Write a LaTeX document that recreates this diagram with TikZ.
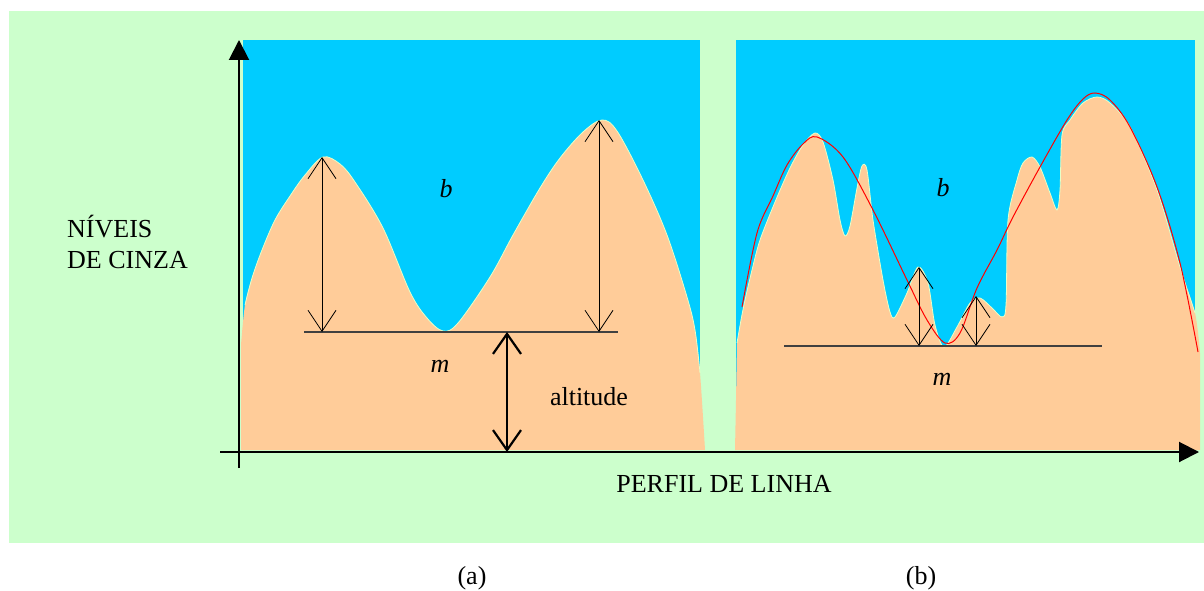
\documentclass[tikz,border=0pt]{standalone}
\usepackage{fontspec}
\setmainfont{Liberation Serif}
\usetikzlibrary{arrows.meta}
\definecolor{bggreen}{HTML}{CCFFCC}
\definecolor{skyblue}{HTML}{00CCFF}
\definecolor{peach}{HTML}{FFCC99}
\definecolor{rim}{HTML}{E6FFC8}
\definecolor{levelgray}{HTML}{404040}
\tikzset{
  lbl/.style={inner sep=0pt, anchor=base, font=\fontsize{26}{30}\selectfont},
  barbarrow/.style={line width=0.8pt, {Straight Barb[length=21pt,width=28pt]}-{Straight Barb[length=21pt,width=28pt]}},
  altarrow/.style={line width=2.2pt, {Straight Barb[length=20pt,width=28pt]}-{Straight Barb[length=20pt,width=28pt]}},
  axisline/.style={line width=2pt, -{Triangle[length=20pt,width=20pt]}},
  levelline/.style={levelgray, line width=1.4pt},
  fitcurve/.style={red, line width=1pt},
}
\begin{document}
\begin{tikzpicture}[x=1pt,y=-1pt]
\useasboundingbox (0,0) rectangle (1204,591);
% background
\fill[white] (0,0) rectangle (1204,591);
\fill[bggreen] (9,11) rectangle (1204,543);
% panel (a)
\fill[skyblue] (243,40) rectangle (700,450);
\fill[peach] (241,450) -- (241,345) -- plot[smooth, tension=0.55] coordinates {
 (241,345) (245,305) (252,278) (262,250) (275,220) (290,196) (305,175) (323,157) (340,164) (355,182)
 (383,228) (410,292) (427,318) (443,331) (458,323) (490,277) (513,235) (540,188) (560,158) (583,132)
 (602,120) (617,131) (643,180) (667,235) (687,297) (695,330) (700,373) (705,450)} -- cycle;
\draw[rim, line width=0.8pt] plot[smooth, tension=0.55] coordinates {
 (245,305) (252,278) (262,250) (275,220) (290,196) (305,175) (323,157) (340,164) (355,182)
 (383,228) (410,292) (427,318) (443,331) (458,323) (490,277) (513,235) (540,188) (560,158) (583,132)
 (602,120) (617,131) (643,180) (667,235) (687,297) (695,330) (700,373)};
% panel (b)
\fill[skyblue] (736,40) rectangle (1195,450);
\fill[peach] (735,450) -- (736,400) -- plot[smooth, tension=0.5] coordinates {
 (737,343) (741,320) (745,300) (752,270) (760,240) (775,202) (790,168) (803,145) (815,133) (823,142)
 (833,180) (840,220) (845,236) (850,226) (857,188) (862,166) (867,170) (873,220) (883,280) (890,312)
 (895,317) (907,293) (918,267) (928,283) (935,325) (944,347) (957,327) (970,303) (980,298) (992,308)
 (1002,317) (1006,305) (1008,220) (1017,180) (1023,163) (1032,157) (1040,167) (1050,193) (1057,210)
 (1060,190) (1062,135) (1070,120) (1083,103) (1097,97) (1110,103) (1130,127) (1157,190) (1180,267)
 (1195,313) (1200,353)} -- (1200,450) -- cycle;
\draw[rim, line width=0.8pt] plot[smooth, tension=0.5] coordinates {
 (737,343) (741,320) (745,300) (752,270) (760,240) (775,202) (790,168) (803,145) (815,133) (823,142)
 (833,180) (840,220) (845,236) (850,226) (857,188) (862,166) (867,170) (873,220) (883,280) (890,312)
 (895,317) (907,293) (918,267) (928,283) (935,325) (944,347) (957,327) (970,303) (980,298) (992,308)
 (1002,317) (1006,305) (1008,220) (1017,180) (1023,163) (1032,157) (1040,167) (1050,193) (1057,210)
 (1060,190) (1062,135) (1070,120) (1083,103) (1097,97) (1110,103) (1130,127) (1157,190) (1180,267)
 (1195,313)};
% fitted red curve
\draw[fitcurve] plot[smooth, tension=0.55] coordinates {
 (742,307) (757,233) (773,196) (787,165) (803,144) (817,137) (843,157) (873,210) (907,280) (927,320)
 (945,343) (960,333) (977,288) (997,250) (1013,217) (1040,167) (1067,120) (1083,99) (1095,93)
 (1110,100) (1130,127) (1157,187) (1180,263) (1198,352)};
% coordinates
\coordinate (yb) at (239,468);
\coordinate (yt) at (239,40);
\coordinate (xl) at (220,452);
\coordinate (xr) at (1199,452);
\coordinate (la) at (304,332);
\coordinate (ra) at (618,332);
\coordinate (p1t) at (322,157);
\coordinate (p1b) at (322,332);
\coordinate (p2t) at (599,120);
\coordinate (p2b) at (599,332);
\coordinate (alt) at (507,332);
\coordinate (altb) at (507,452);
\coordinate (lb) at (784,346);
\coordinate (rb) at (1102,346);
\coordinate (q1t) at (919,267);
\coordinate (q1b) at (919,346);
\coordinate (q2t) at (976,296);
\coordinate (q2b) at (976,346);
% level lines
\draw[levelline] (la) -- (ra);
\draw[levelline] (lb) -- (rb);
% arrows
\draw[barbarrow] (p1t) -- (p1b);
\draw[barbarrow] (p2t) -- (p2b);
\draw[altarrow] (alt) -- (altb);
\draw[barbarrow] (q1t) -- (q1b);
\draw[barbarrow] (q2t) -- (q2b);
% axes
\draw[axisline] (yb) -- (yt);
\draw[axisline] (xl) -- (xr);
% labels
\node[lbl] (ba) at (446,197) {\textit{b}};
\node[lbl] (ma) at (440,372) {\textit{m}};
\node[lbl] (altl) at (589,405) {altitude};
\node[lbl] (bb) at (943,196) {\textit{b}};
\node[lbl] (mb) at (942,385) {\textit{m}};
\node[lbl, anchor=base west] (ny1) at (67,237) {NÍVEIS};
\node[lbl, anchor=base west] (ny2) at (67,268) {DE CINZA};
\node[lbl] (px) at (724,492) {PERFIL DE LINHA};
\node[lbl] (capa) at (472,584) {(a)};
\node[lbl] (capb) at (921,584) {(b)};
\end{tikzpicture}
\end{document}
